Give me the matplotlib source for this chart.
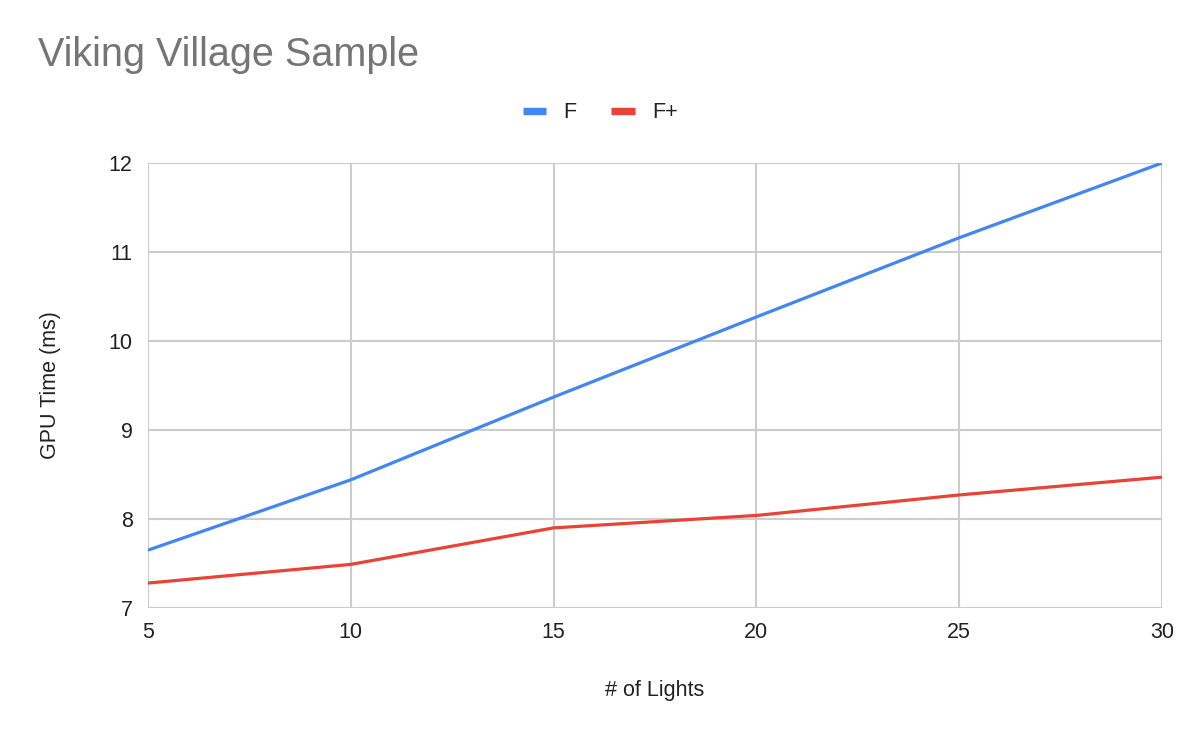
import matplotlib
matplotlib.use("Agg")
import matplotlib.pyplot as plt
from matplotlib.lines import Line2D

plt.rcParams['font.family'] = ['Liberation Sans', 'DejaVu Sans']

# data
lights = [5, 10, 15, 20, 25, 30]
f_times = [7.65, 8.44, 9.37, 10.27, 11.16, 12.0]
fplus_times = [7.28, 7.49, 7.90, 8.04, 8.27, 8.47]

blue = "#4285f4"
red = "#ea4335"

fig = plt.figure(figsize=(12, 7.42), dpi=100)
ax = fig.add_axes([0.1233, 0.1806, 0.845, 0.5997])

ax.plot(lights, f_times, color=blue, linewidth=2.3, solid_capstyle="butt")
ax.plot(lights, fplus_times, color=red, linewidth=2.3, solid_capstyle="butt")

ax.set_xlim(5, 30)
ax.set_ylim(7, 12)
ax.set_xticks([5, 10, 15, 20, 25, 30])
ax.set_yticks([7, 8, 9, 10, 11, 12])
ax.grid(True, color="#cccccc", linewidth=1.5)
ax.set_axisbelow(True)
for s in ax.spines.values():
	s.set_visible(False)
ax.tick_params(length=0, labelsize=15.5, labelcolor="#222222")
ax.tick_params(axis="x", pad=10)
ax.tick_params(axis="y", pad=11)

ax.set_xlabel("# of Lights", fontsize=15.5, color="#222222", labelpad=27)
ax.set_ylabel("GPU Time (ms)", fontsize=15.5, color="#222222", labelpad=34)

fig.text(38 / 1200, 1 - 55 / 742, "Viking Village Sample", fontsize=28.5,
		 color="#757575", va="center", ha="left")

handles = [Line2D([], [], color=blue, linewidth=5.3, solid_capstyle="butt"),
		   Line2D([], [], color=red, linewidth=5.3, solid_capstyle="butt")]
fig.legend(handles, ["F", "F+"], loc="center", bbox_to_anchor=(0.5, 1 - 113 / 742),
		   ncol=2, frameon=False, fontsize=15.5, handlelength=1.1,
		   handletextpad=0.8, columnspacing=1.6, labelcolor="#222222")

plt.savefig("out.png")
plt.close()
